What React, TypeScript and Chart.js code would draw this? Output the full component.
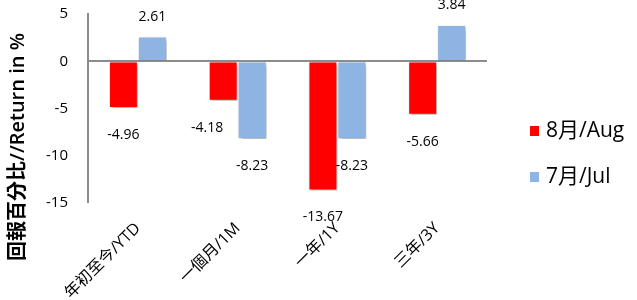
import React, { useEffect, useRef } from "react";
import { Chart, registerables } from "chart.js";

Chart.register(...registerables);

const categories = ["年初至今/YTD", "一個月/1M", "一年/1Y", "三年/3Y"];
const augValues = [-4.96, -4.18, -13.67, -5.66];
const julValues = [2.61, -8.23, -8.23, 3.84];
const seriesNames = ["8月/Aug", "7月/Jul"];
const yTicks = [5, 0, -5, -10, -15];
const yTitle = "回報百分比//Return in %";

const FONT = "'Open Sans', 'Noto Sans CJK TC', sans-serif";
const RED = "#FF0000";
const BLUE = "#8DB4E2";
const AXIS = "#8C8C8C";

// style-only nudges for a data label (dataset, index) -> dx
const LABEL_NUDGE: Record<string, number> = { "0-1": -16 };

const shadowPlugin = {
  id: "barShadow",
  beforeDatasetDraw(chart: any) {
    const ctx = chart.ctx;
    ctx.save();
    ctx.shadowColor = "rgba(0,0,0,0.35)";
    ctx.shadowBlur = 4;
    ctx.shadowOffsetX = 2;
    ctx.shadowOffsetY = 2;
  },
  afterDatasetDraw(chart: any) {
    chart.ctx.restore();
  },
};

const labelPlugin = {
  id: "valueLabels",
  afterDatasetsDraw(chart: any) {
    const ctx = chart.ctx;
    ctx.save();
    ctx.font = `14px ${FONT}`;
    ctx.fillStyle = "#000";
    ctx.textAlign = "center";
    ctx.textBaseline = "middle";
    chart.data.datasets.forEach((ds: any, di: number) => {
      const meta = chart.getDatasetMeta(di);
      meta.data.forEach((bar: any, i: number) => {
        const v = ds.data[i];
        const dx = LABEL_NUDGE[`${di}-${i}`] || 0;
        const y = v >= 0 ? bar.y - 20 : bar.y + 27;
        ctx.fillText(v.toFixed(2), bar.x + dx, y);
      });
    });
    ctx.restore();
  },
};

const legendTitlePlugin = {
  id: "legendAndTitle",
  afterDraw(chart: any) {
    const ctx = chart.ctx;
    ctx.save();
    // legend
    const lx = 530;
    const ys = [131, 177];
    ctx.font = `21px ${FONT}`;
    ctx.textBaseline = "middle";
    ctx.textAlign = "left";
    chart.data.datasets.forEach((ds: any, i: number) => {
      ctx.fillStyle = ds.backgroundColor;
      ctx.fillRect(lx, ys[i] - 5, 9, 10);
      ctx.fillStyle = "#000";
      ctx.fillText(ds.label, lx + 16, ys[i]);
    });
    // y title
    ctx.translate(18, 147);
    ctx.rotate(-Math.PI / 2);
    ctx.textAlign = "center";
    ctx.font = `600 20px ${FONT}`;
    ctx.fillText(yTitle, 0, 0);
    ctx.restore();
  },
};

function zeroPad(scale: any) {
  scale.paddingTop = 0;
  scale.paddingBottom = 0;
  scale.paddingLeft = 0;
  scale.paddingRight = 0;
}

export default function App() {
  const ref = useRef<HTMLCanvasElement | null>(null);
  useEffect(() => {
    document.body.style.margin = "0";
    const chart = new Chart(ref.current as HTMLCanvasElement, {
      type: "bar",
      data: {
        labels: categories,
        datasets: [
          {
            label: seriesNames[0],
            data: augValues,
            backgroundColor: RED,
            borderColor: "#FFFFFF",
            borderWidth: 1,
            categoryPercentage: 0.58,
            barPercentage: 1,
          },
          {
            label: seriesNames[1],
            data: julValues,
            backgroundColor: BLUE,
            borderColor: "#FFFFFF",
            borderWidth: 1,
            categoryPercentage: 0.58,
            barPercentage: 1,
          },
        ],
      },
      options: {
        animation: false,
        responsive: false,
        maintainAspectRatio: false,
        layout: { autoPadding: false, padding: { top: 14, left: 0, right: 150, bottom: 0 } },
        plugins: { legend: { display: false }, tooltip: { enabled: false } },
        scales: {
          x: {
            grid: { display: false, drawTicks: false },
            border: { display: false },
            ticks: {
              font: { family: FONT, size: 16 },
              color: "#000",
              maxRotation: 45,
              minRotation: 45,
              padding: 16,
              autoSkip: false,
            },
            afterFit(scale: any) {
              scale.height = 97;
              zeroPad(scale);
            },
          },
          y: {
            min: -15,
            max: 5,
            afterBuildTicks(scale: any) {
              scale.ticks = yTicks.map((v) => ({ value: v }));
            },
            grid: {
              drawTicks: false,
              color: (c: any) => (c.tick && c.tick.value === 0 ? AXIS : "rgba(0,0,0,0)"),
              lineWidth: (c: any) => (c.tick && c.tick.value === 0 ? 2 : 0),
            },
            border: { display: true, color: AXIS, width: 2 },
            ticks: {
              font: { family: FONT, size: 15 },
              color: "#000",
              padding: 20,
            },
            afterFit(scale: any) {
              scale.width = 88;
              zeroPad(scale);
            },
          },
        },
      },
      plugins: [shadowPlugin, labelPlugin, legendTitlePlugin],
    } as any);
    return () => chart.destroy();
  }, []);
  return (
    <div style={{ width: 637, height: 300 }}>
      <canvas ref={ref} width={637} height={300} />
    </div>
  );
}
